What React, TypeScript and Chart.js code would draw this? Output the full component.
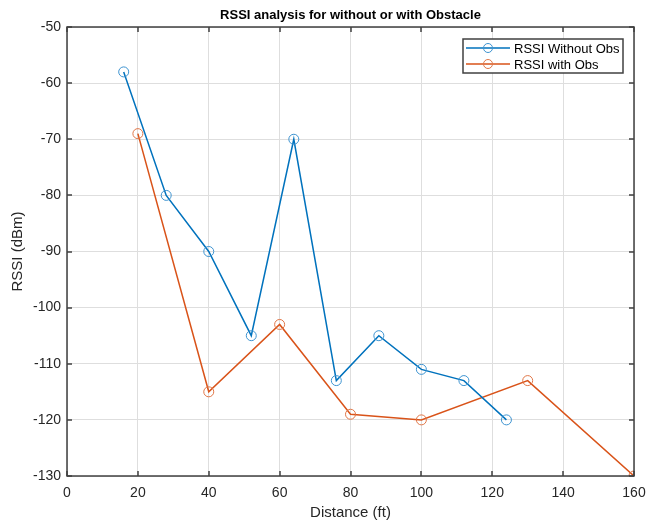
import React, { useEffect, useRef } from "react";
import { Chart, registerables } from "chart.js";
Chart.register(...registerables);

const distWithout = [16, 28, 40, 52, 64, 76, 88, 100, 112, 124];
const rssiWithout = [-58, -80, -90, -105, -70, -113, -105, -111, -113, -120];
const distWith = [20, 40, 60, 80, 100, 130, 160];
const rssiWith = [-69, -115, -103, -119, -120, -113, -130];
const seriesLabels = ["RSSI Without Obs", "RSSI with Obs"];
const seriesColors = ["#0072BD", "#D95319"];
const markerColors = ["#3d93d0", "#e07647"];
const titleText = "RSSI analysis for without or with Obstacle";
const xLabel = "Distance (ft)";
const yLabel = "RSSI (dBm)";
const X_MIN = 0, X_MAX = 160, X_STEP = 20;
const Y_MIN = -130, Y_MAX = -50, Y_STEP = 10;

const FONT = "'Liberation Sans', Arial, Helvetica, sans-serif";
const AXIS_COLOR = "#262626";
const BOX_COLOR = "#404040";

const decorPlugin = {
  id: "decor",
  afterDatasetsDraw(chart: any) {
    const { ctx, chartArea: a, scales } = chart;
    const xs = scales.x, ys = scales.y;
    ctx.save();
    // inward ticks
    const tl = 5;
    ctx.strokeStyle = BOX_COLOR;
    ctx.lineWidth = 1.5;
    ctx.beginPath();
    for (let v = X_MIN; v <= X_MAX; v += X_STEP) {
      const px = Math.round(xs.getPixelForValue(v));
      ctx.moveTo(px, a.bottom); ctx.lineTo(px, a.bottom - tl);
      ctx.moveTo(px, a.top); ctx.lineTo(px, a.top + tl);
    }
    for (let v = Y_MIN; v <= Y_MAX; v += Y_STEP) {
      const py = Math.round(ys.getPixelForValue(v));
      ctx.moveTo(a.left, py); ctx.lineTo(a.left + tl, py);
      ctx.moveTo(a.right, py); ctx.lineTo(a.right - tl, py);
    }
    ctx.stroke();
    // box
    ctx.lineWidth = 1.5;
    ctx.strokeRect(Math.round(a.left), Math.round(a.top), Math.round(a.right - a.left), Math.round(a.bottom - a.top));
    // title
    const cx = (a.left + a.right) / 2;
    ctx.fillStyle = "#000";
    ctx.font = `bold 13px ${FONT}`;
    ctx.textAlign = "center";
    ctx.textBaseline = "middle";
    ctx.fillText(titleText, cx, 15);
    // axis labels
    ctx.fillStyle = AXIS_COLOR;
    ctx.font = `15px ${FONT}`;
    ctx.fillText(xLabel, cx, 513);
    ctx.save();
    ctx.translate(18, (a.top + a.bottom) / 2);
    ctx.rotate(-Math.PI / 2);
    ctx.fillText(yLabel, 0, 0);
    ctx.restore();
    // legend
    const lx = 463, ly = 39, lw = 160, lh = 34;
    ctx.fillStyle = "#fff";
    ctx.fillRect(lx, ly, lw, lh);
    ctx.strokeStyle = BOX_COLOR;
    ctx.lineWidth = 1.5;
    ctx.strokeRect(lx, ly, lw, lh);
    ctx.font = `13px ${FONT}`;
    ctx.textAlign = "left";
    for (let i = 0; i < seriesLabels.length; i++) {
      const y = ly + 9 + i * 16;
      ctx.strokeStyle = seriesColors[i];
      ctx.lineWidth = 1.5;
      ctx.beginPath();
      ctx.moveTo(lx + 3, y); ctx.lineTo(lx + 47, y);
      ctx.stroke();
      ctx.strokeStyle = markerColors[i];
      ctx.lineWidth = 1;
      ctx.beginPath();
      ctx.arc(lx + 25, y, 4.5, 0, Math.PI * 2);
      ctx.stroke();
      ctx.fillStyle = "#000";
      ctx.fillText(seriesLabels[i], lx + 51, y + 1);
    }
    ctx.restore();
  },
};

export default function App() {
  const ref = useRef<HTMLCanvasElement | null>(null);
  useEffect(() => {
    if (!ref.current) return;
    const mk = (xs: number[], ys: number[]) => xs.map((x, i) => ({ x, y: ys[i] }));
    const ds = (i: number, data: any[]) => ({
      label: seriesLabels[i],
      data,
      borderColor: seriesColors[i],
      backgroundColor: "transparent",
      borderWidth: 1.5,
      pointRadius: 5,
      pointBorderWidth: 1,
      pointBorderColor: markerColors[i],
      pointBackgroundColor: "transparent",
      tension: 0,
    });
    const chart = new Chart(ref.current, {
      type: "line",
      data: {
        datasets: [ds(0, mk(distWithout, rssiWithout)), ds(1, mk(distWith, rssiWith))],
      },
      options: {
        animation: false,
        responsive: false,
        events: [],
        layout: { padding: { left: 8, top: 27, right: 15, bottom: 0 } },
        plugins: { legend: { display: false }, title: { display: false }, tooltip: { enabled: false } },
        scales: {
          x: {
            type: "linear",
            min: X_MIN,
            max: X_MAX,
            afterFit: (s: any) => { s.height = 47; s.paddingLeft = 0; s.paddingRight = 0; },
            ticks: { stepSize: X_STEP, color: AXIS_COLOR, font: { family: FONT, size: 14 }, padding: 9, maxRotation: 0 },
            grid: { color: "#dedede", drawTicks: false },
            border: { display: false },
          },
          y: {
            type: "linear",
            min: Y_MIN,
            max: Y_MAX,
            afterFit: (s: any) => { s.width = 59; s.paddingTop = 0; s.paddingBottom = 0; },
            ticks: { stepSize: Y_STEP, color: AXIS_COLOR, font: { family: FONT, size: 14 }, padding: 6 },
            grid: { color: "#dedede", drawTicks: false },
            border: { display: false },
          },
        },
      },
      plugins: [decorPlugin],
    } as any);
    return () => chart.destroy();
  }, []);
  return (
    <div style={{ position: "absolute", left: 0, top: 0, width: 649, height: 523, background: "#fff" }}>
      <canvas ref={ref} width={649} height={523} />
    </div>
  );
}
